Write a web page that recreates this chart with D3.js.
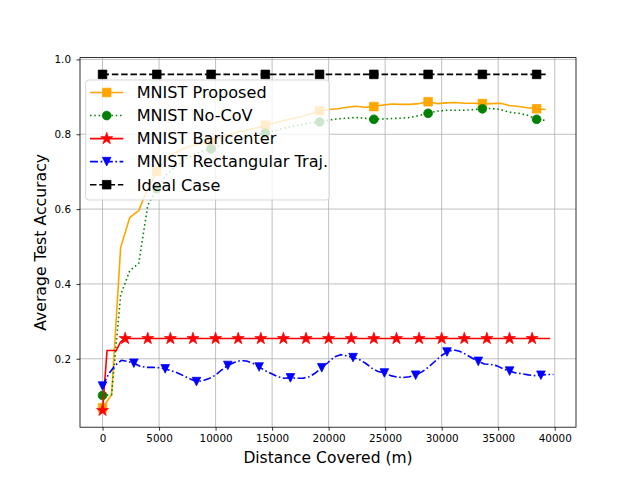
<!DOCTYPE html>
<html><head><meta charset="utf-8">
<script src="https://cdn.jsdelivr.net/npm/d3@7"></script>
<style>body{margin:0;background:#fff}svg{display:block;font-family:"DejaVu Sans",sans-serif}</style>
</head><body><svg id="c" width="640" height="480"></svg>
<script>
// ---------- data ----------
const xTicks = [0, 5000, 10000, 15000, 20000, 25000, 30000, 35000, 40000];
const yTicks = [0.2, 0.4, 0.6, 0.8, 1.0];
const seriesNames = ["MNIST Proposed", "MNIST No-CoV", "MNIST Baricenter", "MNIST Rectangular Traj.", "Ideal Case"];

// distance covered per round (m) and marker interval per series
const roundStep = 800;     // Proposed / No-CoV / Ideal
const baricenterStep = 400;
const rectStep = 554;

const proposedAcc = [
  0.069, 0.104, 0.497, 0.577, 0.596, 0.655, 0.701, 0.736, 0.750, 0.762,
  0.770, 0.775, 0.780, 0.790, 0.800, 0.806, 0.811, 0.817, 0.824, 0.830,
  0.836, 0.842, 0.847, 0.855, 0.863, 0.866, 0.868, 0.872, 0.875, 0.872,
  0.874, 0.878, 0.881, 0.880, 0.880, 0.882, 0.887, 0.882, 0.884, 0.885,
  0.883, 0.883, 0.882, 0.882, 0.883, 0.877, 0.874, 0.871, 0.868, 0.866
];
const noCovAcc = [
  0.102, 0.104, 0.370, 0.435, 0.455, 0.610, 0.655, 0.690, 0.712, 0.730,
  0.745, 0.754, 0.761, 0.771, 0.779, 0.786, 0.792, 0.798, 0.803, 0.810,
  0.816, 0.821, 0.826, 0.830, 0.833, 0.838, 0.841, 0.843, 0.845, 0.843,
  0.840, 0.841, 0.842, 0.843, 0.845, 0.850, 0.856, 0.862, 0.864, 0.864,
  0.864, 0.866, 0.868, 0.869, 0.866, 0.859, 0.856, 0.851, 0.840, 0.837
];
const baricenterAcc = [
  0.062, 0.222, 0.222, 0.222, 0.245, 0.254, 0.254, 0.254, 0.254, 0.254,
  0.254, 0.254, 0.254, 0.254, 0.254, 0.254, 0.254, 0.254, 0.254, 0.254,
  0.254, 0.254, 0.254, 0.254, 0.254, 0.254, 0.254, 0.254, 0.254, 0.254,
  0.254, 0.254, 0.254, 0.254, 0.254, 0.254, 0.254, 0.254, 0.254, 0.254,
  0.254, 0.254, 0.254, 0.254, 0.254, 0.254, 0.254, 0.254, 0.254, 0.254,
  0.254, 0.254, 0.254, 0.254, 0.254, 0.254, 0.254, 0.254, 0.254, 0.254,
  0.254, 0.254, 0.254, 0.254, 0.254, 0.254, 0.254, 0.254, 0.254, 0.254,
  0.254, 0.254, 0.254, 0.254, 0.254, 0.254, 0.254, 0.254, 0.254, 0.254,
  0.254, 0.254, 0.254, 0.254, 0.254, 0.254, 0.254, 0.254, 0.254, 0.254,
  0.254, 0.254, 0.254, 0.254, 0.254, 0.254, 0.254, 0.254, 0.254, 0.254
];
const rectAcc = [
  0.127,
  0.160, 0.182, 0.196, 0.193, 0.188,
  0.180, 0.177, 0.177, 0.176, 0.173,
  0.168, 0.162, 0.154, 0.146, 0.139,
  0.141, 0.147, 0.156, 0.170, 0.182,
  0.190, 0.195, 0.194, 0.188, 0.178,
  0.168, 0.160, 0.152, 0.148, 0.149,
  0.148, 0.148, 0.152, 0.162, 0.176,
  0.190, 0.205, 0.211, 0.208, 0.203,
  0.198, 0.188, 0.175, 0.166, 0.162,
  0.155, 0.151, 0.150, 0.152, 0.156,
  0.165, 0.177, 0.192, 0.207, 0.218,
  0.224, 0.220, 0.212, 0.202, 0.193,
  0.186, 0.185, 0.181, 0.173, 0.167,
  0.162, 0.160, 0.157, 0.155, 0.156,
  0.158, 0.158
];
const idealAcc = [
  0.96, 0.96, 0.96, 0.96, 0.96, 0.96, 0.96, 0.96, 0.96, 0.96,
  0.96, 0.96, 0.96, 0.96, 0.96, 0.96, 0.96, 0.96, 0.96, 0.96,
  0.96, 0.96, 0.96, 0.96, 0.96, 0.96, 0.96, 0.96, 0.96, 0.96,
  0.96, 0.96, 0.96, 0.96, 0.96, 0.96, 0.96, 0.96, 0.96, 0.96,
  0.96, 0.96, 0.96, 0.96, 0.96, 0.96, 0.96, 0.96, 0.96, 0.96
];

// ---------- styles ----------
const series = [
  {name: seriesNames[0], vals: proposedAcc,   step: roundStep,      every: 6, color: "#ffa500", dash: null,              marker: "square",   ms: 8.6},
  {name: seriesNames[1], vals: noCovAcc,      step: roundStep,      every: 6, color: "#008000", dash: "1.5,2.8",         marker: "circle",   ms: 8.8},
  {name: seriesNames[2], vals: baricenterAcc, step: baricenterStep, every: 5, color: "#ff0000", dash: null,              marker: "star",     ms: 12.6},
  {name: seriesNames[3], vals: rectAcc,       step: rectStep,       every: 5, color: "#0000ff", dash: "8,2.6,1.6,2.6",   marker: "triangle", ms: 8.6},
  {name: seriesNames[4], vals: idealAcc,      step: roundStep,      every: 6, color: "#000000", dash: "6.5,2.8",         marker: "square",   ms: 8.6}
];
series.forEach(s => { s.pts = s.vals.map((v, i) => ({x: i * s.step, y: v, i})); });

const L = 80, R = 576, T = 57.6, B = 427.2;
const svg = d3.select("#c");

const allX = series.flatMap(s => s.pts.map(p => p.x));
const allY = series.flatMap(s => s.pts.map(p => p.y));
const [x0, x1] = d3.extent(allX), [y0, y1] = d3.extent(allY);
const px = (x1 - x0) * 0.05, py = (y1 - y0) * 0.05;
const x = d3.scaleLinear().domain([x0 - px, x1 + px]).range([L, R]);
const y = d3.scaleLinear().domain([y0 - py, y1 + py]).range([B, T]);

// grid
const grid = svg.append("g").attr("stroke", "#b0b0b0").attr("stroke-width", 0.8);
xTicks.forEach(t => grid.append("line").attr("x1", x(t)).attr("x2", x(t)).attr("y1", T).attr("y2", B));
yTicks.forEach(t => grid.append("line").attr("x1", L).attr("x2", R).attr("y1", y(t)).attr("y2", y(t)));

svg.append("clipPath").attr("id", "clip").append("rect")
  .attr("x", L).attr("y", T).attr("width", R - L).attr("height", B - T);

function markerPath(type, ms) {
  const h = ms / 2;
  if (type === "square") return `M${-h},${-h}H${h}V${h}H${-h}Z`;
  if (type === "circle") return `M${h},0A${h},${h} 0 1,1 ${-h},0A${h},${h} 0 1,1 ${h},0Z`;
  if (type === "triangle") return `M0,${h}L${-h},${-h}L${h},${-h}Z`;
  if (type === "star") {
    const r2 = h * 0.381966;
    let d = "";
    for (let k = 0; k < 10; k++) {
      const r = k % 2 === 0 ? h : r2;
      const a = -Math.PI / 2 + k * Math.PI / 5;
      d += (k === 0 ? "M" : "L") + (r * Math.cos(a)).toFixed(3) + "," + (r * Math.sin(a)).toFixed(3);
    }
    return d + "Z";
  }
}

const line = d3.line().x(d => x(d.x)).y(d => y(d.y));
const plot = svg.append("g").attr("clip-path", "url(#clip)");
series.forEach(s => {
  plot.append("path").datum(s.pts).attr("d", line)
    .attr("fill", "none").attr("stroke", s.color).attr("stroke-width", 1.6)
    .attr("stroke-dasharray", s.dash).attr("stroke-linejoin", "round");
  plot.selectAll(null).data(s.pts.filter(p => p.i % s.every === 0)).enter().append("path")
    .attr("d", markerPath(s.marker, s.ms))
    .attr("transform", d => `translate(${x(d.x)},${y(d.y)})`)
    .attr("fill", s.color).attr("stroke", s.color).attr("stroke-width", 0.75);
});

// axes
const fontTick = "10.4px";
const xa = svg.append("g").attr("transform", `translate(0,${B})`)
  .call(d3.axisBottom(x).tickValues(xTicks).tickFormat(d3.format("d")).tickSize(3.5).tickPadding(3.5));
const ya = svg.append("g").attr("transform", `translate(${L},0)`)
  .call(d3.axisLeft(y).tickValues(yTicks).tickFormat(d3.format(".1f")).tickSize(3.5).tickPadding(5.5));
[xa, ya].forEach(a => {
  a.select(".domain").remove();
  a.selectAll("line").attr("stroke", "#000").attr("stroke-width", 0.8);
  a.selectAll("text").attr("fill", "#000").style("font-size", fontTick).style("font-family", "DejaVu Sans");
});

// spines
svg.append("rect").attr("x", L).attr("y", T).attr("width", R - L).attr("height", B - T)
  .attr("fill", "none").attr("stroke", "#000").attr("stroke-width", 0.8);

// axis labels
svg.append("text").attr("x", (L + R) / 2).attr("y", 462.5).attr("text-anchor", "middle")
  .style("font-size", "15.5px").attr("fill", "#000").text("Distance Covered (m)");
svg.append("text").attr("transform", `translate(45.5,${(T + B) / 2}) rotate(-90)`).attr("text-anchor", "middle")
  .style("font-size", "15.7px").attr("fill", "#000").text("Average Test Accuracy");

// legend
const lg = svg.append("g");
lg.append("rect").attr("x", 85.7).attr("y", 80).attr("width", 243.6).attr("height", 120).attr("rx", 3)
  .attr("fill", "#fff").attr("fill-opacity", 0.8).attr("stroke", "#cccccc").attr("stroke-opacity", 0.8).attr("stroke-width", 1);
series.forEach((s, k) => {
  const cy = 92.5 + k * 23.05;
  lg.append("line").attr("x1", 90).attr("x2", 123.3).attr("y1", cy).attr("y2", cy)
    .attr("stroke", s.color).attr("stroke-width", 1.6).attr("stroke-dasharray", s.dash);
  lg.append("path").attr("d", markerPath(s.marker, s.ms)).attr("transform", `translate(106.7,${cy})`)
    .attr("fill", s.color).attr("stroke", s.color).attr("stroke-width", 0.75);
  lg.append("text").attr("x", 136.7).attr("y", cy + 5.8).style("font-size", "16.1px").attr("fill", "#000").text(s.name);
});
</script></body></html>
